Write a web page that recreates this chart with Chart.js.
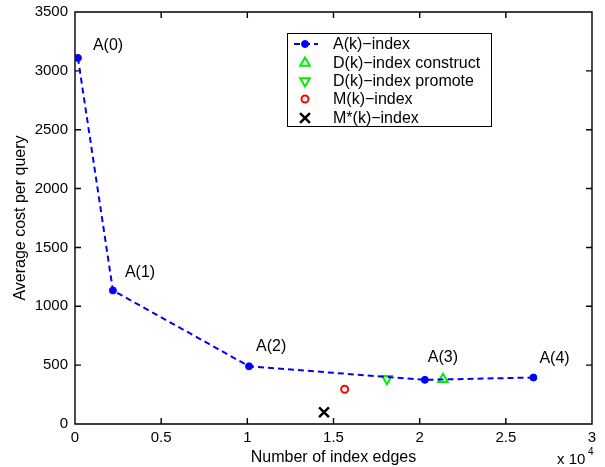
<!DOCTYPE html>
<html>
<head>
<meta charset="utf-8">
<script src="https://cdn.jsdelivr.net/npm/chart.js@4/dist/chart.umd.min.js"></script>
<style>
  html, body { margin: 0; padding: 0; background: #fff; }
</style>
</head>
<body>
<canvas id="c" width="605" height="467"></canvas>
<script>
// A(k)-index series: number of index edges vs average cost
const aEdges = [170, 2200, 10100, 20300, 26600];
const aCost = [3110, 1135, 490, 375, 395];
const aLabels = ["A(0)", "A(1)", "A(2)", "A(3)", "A(4)"];

const dConstructEdges = [21350];
const dConstructCost = [380];
const dPromoteEdges = [18100];
const dPromoteCost = [385];
const mEdges = [15650];
const mCost = [295];
const mStarEdges = [14450];
const mStarCost = [100];

const seriesNames = ["A(k)\u2212index", "D(k)\u2212index construct", "D(k)\u2212index promote", "M(k)\u2212index", "M*(k)\u2212index"];

const xMin = 0, xMax = 30000, yMin = 0, yMax = 3500;

const FONT = "'Liberation Sans', Arial, sans-serif";

const toPts = (xs, ys) => xs.map((x, i) => ({ x: x, y: ys[i] }));

// label offsets (dx to text left, dy to text middle)
const labelOffsets = [[15, -12], [12, -18], [7, -20], [3, -22], [6, -19]];

// box with inward ticks, drawn under the data
const frame = {
  id: "boxFrame",
  beforeDatasetsDraw(chart) {
    const ctx = chart.ctx;
    const xs = chart.scales.x;
    const ys = chart.scales.y;
    const L = xs.getPixelForValue(xMin);
    const R = xs.getPixelForValue(xMax);
    const T = ys.getPixelForValue(yMax);
    const B = ys.getPixelForValue(yMin);
    ctx.save();
    ctx.setLineDash([]);
    ctx.strokeStyle = "rgb(0,0,0)";
    ctx.lineWidth = 1.4;
    ctx.beginPath();
    ctx.rect(L, T, R - L, B - T);
    xs.ticks.forEach(t => {
      const px = xs.getPixelForValue(t.value);
      ctx.moveTo(px, B); ctx.lineTo(px, B - 6);
      ctx.moveTo(px, T); ctx.lineTo(px, T + 6);
    });
    ys.ticks.forEach(t => {
      const py = ys.getPixelForValue(t.value);
      ctx.moveTo(L, py); ctx.lineTo(L + 6, py);
      ctx.moveTo(R, py); ctx.lineTo(R - 6, py);
    });
    ctx.stroke();
    ctx.restore();
  }
};

// point labels, x10^4 exponent and the legend
const decor = {
  id: "decor",
  afterDraw(chart) {
    const ctx = chart.ctx;
    const xs = chart.scales.x;
    const ys = chart.scales.y;
    ctx.save();
    ctx.setLineDash([]);
    ctx.fillStyle = "#000";
    ctx.font = "16px " + FONT;
    ctx.textAlign = "left";
    ctx.textBaseline = "middle";
    aLabels.forEach((lab, i) => {
      const px = xs.getPixelForValue(aEdges[i]);
      const py = ys.getPixelForValue(aCost[i]);
      ctx.fillText(lab, px + labelOffsets[i][0], py + labelOffsets[i][1]);
    });

    ctx.font = "15px " + FONT;
    ctx.fillText("x 10", 557, 460);
    ctx.font = "10px " + FONT;
    ctx.fillText("4", 588, 452);

    const lx = 287, ly = 33, lw = 204, lh = 93;
    ctx.fillStyle = "#fff";
    ctx.fillRect(lx, ly, lw, lh);
    ctx.strokeStyle = "#000";
    ctx.lineWidth = 1;
    ctx.strokeRect(lx + 0.5, ly + 0.5, lw, lh);
    const rows = [44, 63, 81, 99, 118];
    ctx.font = "16px " + FONT;
    chart.data.datasets.forEach((ds, i) => {
      const y = rows[i];
      if (ds.showLine) {
        ctx.save();
        ctx.strokeStyle = ds.borderColor;
        ctx.lineWidth = 2;
        ctx.setLineDash([6, 4]);
        ctx.beginPath();
        ctx.moveTo(294, y); ctx.lineTo(318, y);
        ctx.stroke();
        ctx.restore();
      }
      ctx.save();
      ctx.strokeStyle = ds.pointBorderColor;
      ctx.fillStyle = ds.pointBackgroundColor;
      ctx.lineWidth = ds.pointBorderWidth;
      Chart.helpers.drawPoint(ctx, {
        pointStyle: ds.pointStyle,
        rotation: ds.pointRotation || 0,
        radius: ds.pointRadius,
        borderWidth: ds.pointBorderWidth
      }, 305, y);
      ctx.restore();
      ctx.fillStyle = "#000";
      ctx.fillText(ds.label, 333, y + 1);
    });
    ctx.restore();
  }
};

new Chart(document.getElementById("c").getContext("2d"), {
  type: "scatter",
  data: {
    datasets: [
      {
        label: seriesNames[0],
        data: toPts(aEdges, aCost),
        showLine: true,
        borderColor: "#0000ff",
        backgroundColor: "#0000ff",
        borderWidth: 2,
        borderDash: [6, 4],
        pointStyle: "circle",
        pointRadius: 3.5,
        pointBorderWidth: 1,
        pointBackgroundColor: "#0000ff",
        pointBorderColor: "#0000ff"
      },
      {
        label: seriesNames[1],
        data: toPts(dConstructEdges, dConstructCost),
        pointStyle: "triangle",
        pointRadius: 5.5,
        pointBorderWidth: 2,
        pointBorderColor: "#00ee00",
        pointBackgroundColor: "#ffffff"
      },
      {
        label: seriesNames[2],
        data: toPts(dPromoteEdges, dPromoteCost),
        pointStyle: "triangle",
        pointRotation: 180,
        pointRadius: 5.5,
        pointBorderWidth: 2,
        pointBorderColor: "#00ee00",
        pointBackgroundColor: "#ffffff"
      },
      {
        label: seriesNames[3],
        data: toPts(mEdges, mCost),
        pointStyle: "circle",
        pointRadius: 3.5,
        pointBorderWidth: 2,
        pointBorderColor: "#ff0000",
        pointBackgroundColor: "#ffffff"
      },
      {
        label: seriesNames[4],
        data: toPts(mStarEdges, mStarCost),
        pointStyle: "crossRot",
        pointRadius: 7,
        pointBorderWidth: 2.5,
        pointBorderColor: "#000000",
        pointBackgroundColor: "#000000"
      }
    ]
  },
  options: {
    responsive: false,
    animation: false,
    layout: { padding: { top: 12, right: 13, left: 0, bottom: 0 } },
    plugins: {
      legend: { display: false },
      tooltip: { enabled: false }
    },
    scales: {
      x: {
        type: "linear",
        min: xMin,
        max: xMax,
        grid: { display: false, drawTicks: false },
        border: { display: false },
        ticks: {
          stepSize: 5000,
          padding: 5,
          color: "#000",
          font: { family: FONT, size: 15 },
          maxRotation: 0,
          callback: v => String(v / 10000)
        },
        title: {
          display: true,
          text: "Number of index edges",
          color: "#000",
          font: { family: FONT, size: 16 },
          padding: { top: 0, bottom: 0 }
        },
        afterFit: s => { s.height = 43; }
      },
      y: {
        type: "linear",
        min: yMin,
        max: yMax,
        grid: { display: false, drawTicks: false },
        border: { display: false },
        ticks: {
          stepSize: 500,
          padding: 7,
          color: "#000",
          font: { family: FONT, size: 15 },
          callback: v => String(v)
        },
        title: {
          display: true,
          text: "Average cost per query",
          color: "#000",
          font: { family: FONT, size: 16 },
          padding: { top: 11, bottom: 0 }
        },
        afterFit: s => { s.width = 75; s.paddingTop = 0; s.paddingBottom = 0; }
      }
    }
  },
  plugins: [frame, decor]
});
</script>
</body>
</html>
